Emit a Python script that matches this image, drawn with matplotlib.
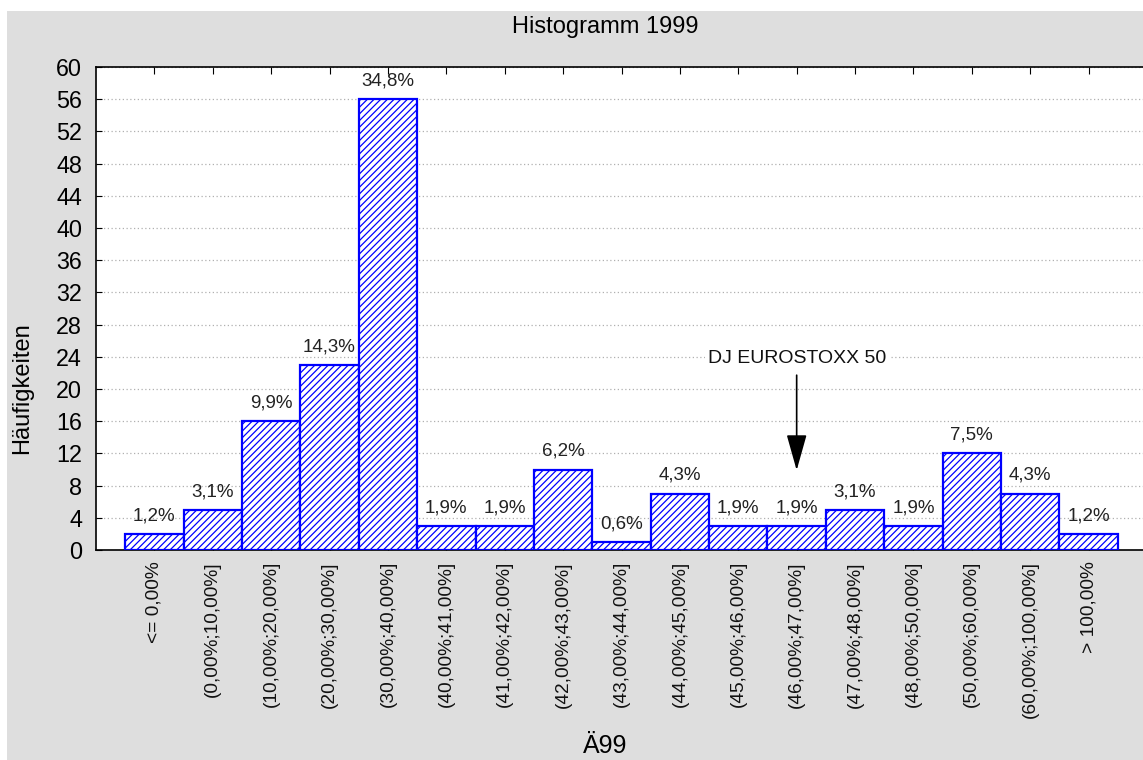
import matplotlib
matplotlib.use('Agg')
import matplotlib.pyplot as plt
from matplotlib.patches import Rectangle
import numpy as np

# Data
klassen = ['<= 0,00%', '(0,00%;10,00%]', '(10,00%;20,00%]', '(20,00%;30,00%]',
           '(30,00%;40,00%]', '(40,00%;41,00%]', '(41,00%;42,00%]', '(42,00%;43,00%]',
           '(43,00%;44,00%]', '(44,00%;45,00%]', '(45,00%;46,00%]', '(46,00%;47,00%]',
           '(47,00%;48,00%]', '(48,00%;50,00%]', '(50,00%;60,00%]', '(60,00%;100,00%]',
           '> 100,00%']
haeufigkeiten = [2, 5, 16, 23, 56, 3, 3, 10, 1, 7, 3, 3, 5, 3, 12, 7, 2]
prozent = ['1,2%', '3,1%', '9,9%', '14,3%', '34,8%', '1,9%', '1,9%', '6,2%', '0,6%',
           '4,3%', '1,9%', '1,9%', '3,1%', '1,9%', '7,5%', '4,3%', '1,2%']
y_ticks = list(range(0, 61, 4))
marker_idx = 11
marker_label = 'DJ EUROSTOXX 50'

plt.rcParams['font.family'] = ['Liberation Sans', 'DejaVu Sans']
plt.rcParams['hatch.linewidth'] = 0.9

W, H = 1143, 760
fig = plt.figure(figsize=(W / 100, H / 100), dpi=100, facecolor='white')
# gray panel behind everything
fig.patches.append(Rectangle((7 / W, 0), 1 - 7 / W, 1 - 11 / H, transform=fig.transFigure,
                             facecolor='#dedede', edgecolor='none', zorder=-10))

left, right, top, bottom = 96, 1147, 67, 550
ax = fig.add_axes([left / W, 1 - bottom / H, (right - left) / W, (bottom - top) / H])
ax.set_facecolor('white')

x = np.arange(len(klassen))
ax.bar(x, haeufigkeiten, width=1.0, facecolor='white', edgecolor='#0000ff',
       hatch='/////', linewidth=1.6, zorder=3)

for xi, h, p in zip(x, haeufigkeiten, prozent):
    ax.annotate(p, (xi, h), xytext=(0, 7), textcoords='offset points',
                ha='center', va='bottom', fontsize=13.5, color='#222222', zorder=4)

ax.annotate(marker_label, xy=(marker_idx, 9.9), xytext=(marker_idx, 23.8),
            ha='center', va='center', fontsize=14, color='#111111',
            bbox=dict(facecolor='white', edgecolor='none', pad=2),
            arrowprops=dict(arrowstyle='-|>,head_length=1.6,head_width=0.45',
                            color='black', lw=1.2, shrinkA=4, shrinkB=0),
            zorder=5)

ax.set_xlim(-1, 17)
ax.set_ylim(0, 60)
ax.set_yticks(y_ticks)
ax.set_yticklabels([str(t) for t in y_ticks], fontsize=16.8)
ax.set_xticks(x)
ax.set_xticklabels(klassen, rotation=90, fontsize=13.8, color='#111111', va='top')
ax.tick_params(axis='x', direction='in', top=True, length=5, pad=8)
ax.tick_params(axis='y', direction='in', length=4, pad=10)

ax.yaxis.grid(True, linestyle=(0, (1, 2)), color='#b0b0b0', linewidth=0.9, zorder=0)
ax.set_axisbelow(True)
for s in ax.spines.values():
    s.set_color('black')
    s.set_linewidth(1.2)

fig.text(605 / W, 1 - 27 / H, 'Histogramm 1999', ha='center', va='center', fontsize=17)
fig.text(605 / W, 1 - 746 / H, 'Ä99', ha='center', va='center', fontsize=18)
fig.text(22 / W, 1 - 388 / H, 'Häufigkeiten', ha='center', va='center', rotation=90, fontsize=17)

fig.savefig('out.png', dpi=100, facecolor=fig.get_facecolor())
